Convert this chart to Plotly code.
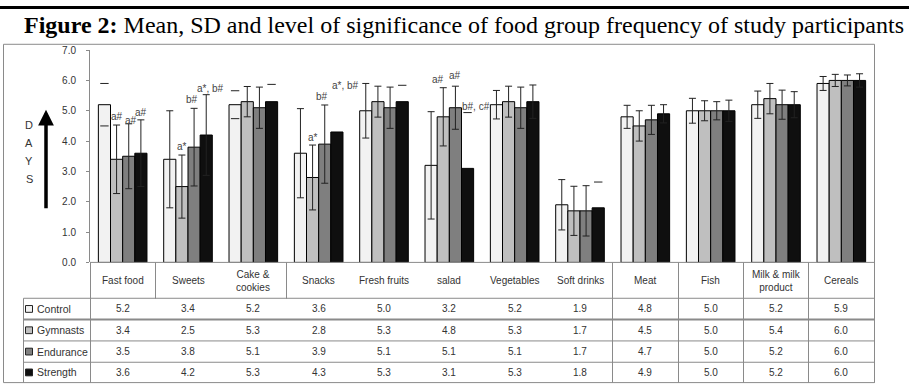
import plotly.graph_objects as go

# ---------------- data ----------------
categories = ["Fast food", "Sweets", "Cake &<br>cookies", "Snacks", "Fresh fruits", "salad",
              "Vegetables", "Soft drinks", "Meat", "Fish", "Milk & milk<br>product", "Cereals"]
series_names = ["Control", "Gymnasts", "Endurance", "Strength"]

control_mean = [5.2, 3.4, 5.2, 3.6, 5.0, 3.2, 5.2, 1.9, 4.8, 5.0, 5.2, 5.9]
gymnasts_mean = [3.4, 2.5, 5.3, 2.8, 5.3, 4.8, 5.3, 1.7, 4.5, 5.0, 5.4, 6.0]
endurance_mean = [3.5, 3.8, 5.1, 3.9, 5.1, 5.1, 5.1, 1.7, 4.7, 5.0, 5.2, 6.0]
strength_mean = [3.6, 4.2, 5.3, 4.3, 5.3, 3.1, 5.3, 1.8, 4.9, 5.0, 5.2, 6.0]

control_sd = [0.70, 1.60, 0.46, 1.47, 0.90, 1.77, 0.47, 0.83, 0.38, 0.41, 0.45, 0.23]
gymnasts_sd = [1.13, 1.04, 0.50, 1.07, 0.51, 0.96, 0.51, 0.81, 0.50, 0.33, 0.50, 0.20]
endurance_sd = [1.07, 1.28, 0.68, 1.29, 0.68, 0.71, 0.68, 0.83, 0.48, 0.30, 0.48, 0.18]
strength_sd = [1.10, 1.33, 0.57, 1.30, 0.54, 1.84, 0.55, 0.85, 0.30, 0.35, 0.43, 0.22]

# how the error bar shows in the source: full whisker, caps only, top cap only, none
control_err = ["caps", "full", "caps", "full", "full", "full", "full", "full", "full", "full", "full", "full"]
gymnasts_err = ["full"] * 12
endurance_err = ["full"] * 12
strength_err = ["full", "full", "top", "none", "top", "top", "full", "top", "full", "full", "full", "full"]

# significance labels: (category index, series index, text)
sig_labels = [
    (0, 1, "a#"), (0, 2, "a#"), (0, 3, "a#"),
    (1, 1, "a*"), (1, 2, "b#"), (1, 3, "a*, b#"),
    (3, 1, "a*"), (3, 2, "b#"), (3, 3, "a*, b#"),
    (5, 1, "a#"), (5, 2, "a#"), (5, 3, "b#, c#"),
]
sig_xshift = [0, 2, 0, 0, -2, 4, 0, -3, 9, -5, 0, 8]
sig_yshift = [1, -4, 0, 1, 1, -1, 0, 1, 0, 1, 3, -1]

means = [control_mean, gymnasts_mean, endurance_mean, strength_mean]
sds = [control_sd, gymnasts_sd, endurance_sd, strength_sd]
errs = [control_err, gymnasts_err, endurance_err, strength_err]

# ---------------- style ----------------
colors = ["#f2f2f2", "#bfbfbf", "#7f7f7f", "#0f0f0f"]
W, H = 909, 392
GRID = "#8a8a8a"
TXT = "#333333"
FONT = "Liberation Sans"
bw = 0.186


def fx(px):
    return px / W


def fy(py):
    return 1 - py / H


fig = go.Figure()

n = len(categories)
for j, name in enumerate(series_names):
    xs = [i + (j - 1.5) * bw for i in range(n)]
    fig.add_trace(go.Bar(
        x=xs, y=means[j], width=bw, name=name,
        marker=dict(color=colors[j], line=dict(color="#000000", width=1)),
        showlegend=False, hoverinfo="skip"))

for j in range(4):
    xs = [i + (j - 1.5) * bw for i in range(n)]
    fx_full = [xs[i] for i in range(n) if errs[j][i] == "full"]
    fy_full = [means[j][i] for i in range(n) if errs[j][i] == "full"]
    fe_full = [sds[j][i] for i in range(n) if errs[j][i] == "full"]
    fig.add_trace(go.Scatter(
        x=fx_full, y=fy_full, mode="markers",
        marker=dict(size=1, color="rgba(0,0,0,0)"),
        error_y=dict(type="data", array=fe_full, visible=True, color="#222222",
                     thickness=1, width=3.5),
        showlegend=False, hoverinfo="skip"))
    cx, cy = [], []
    for i in range(n):
        if errs[j][i] in ("caps", "top"):
            cx.append(xs[i]); cy.append(means[j][i] + sds[j][i])
        if errs[j][i] == "caps":
            cx.append(xs[i]); cy.append(means[j][i] - sds[j][i])
    if cx:
        fig.add_trace(go.Scatter(
            x=cx, y=cy, mode="markers",
            marker=dict(symbol="line-ew", size=6, line=dict(color="#222222", width=1)),
            showlegend=False, hoverinfo="skip"))

annotations = []
# significance labels
for k, (ci, sj, txt) in enumerate(sig_labels):
    annotations.append(dict(
        x=ci + (sj - 1.5) * bw, y=means[sj][ci] + sds[sj][ci], xref="x", yref="y",
        text=txt, showarrow=False, yanchor="bottom", xanchor="center",
        xshift=sig_xshift[k], yshift=sig_yshift[k],
        font=dict(family=FONT, size=10, color="#444444")))

# title
annotations.append(dict(
    x=fx(906), y=fy(20), xref="paper", yref="paper", xanchor="right", yanchor="middle",
    text="<b>Figure 2:</b> Mean, SD and level of significance of food group frequency of study participants",
    showarrow=False, font=dict(family="Liberation Serif", size=24, color="#000000")))

# DAYS
for k, ch in enumerate("DAYS"):
    annotations.append(dict(
        x=fx(29), y=fy(123 + k * 18.5), xref="paper", yref="paper", text=ch,
        showarrow=False, xanchor="center", yanchor="middle",
        font=dict(family=FONT, size=11, color=TXT)))

# arrow
annotations.append(dict(
    x=fx(46), y=fy(107), xref="paper", yref="paper", ax=0, ay=100, axref="pixel", ayref="pixel",
    showarrow=True, arrowhead=2, arrowsize=0.9, arrowwidth=3.5, arrowcolor="#000000", text=""))

# table header
row_y = [312.5, 334.5, 356.5, 378]
for i, c in enumerate(categories):
    annotations.append(dict(
        x=i, y=fy(283.5), xref="x", yref="paper", text=c, showarrow=False,
        xanchor="center", yanchor="middle",
        font=dict(family=FONT, size=10, color=TXT)))
    for j in range(4):
        annotations.append(dict(
            x=i, y=fy(row_y[j]), xref="x", yref="paper", text=f"{means[j][i]:.1f}",
            showarrow=False, xanchor="center", yanchor="middle",
            font=dict(family=FONT, size=10, color=TXT)))

for j, name in enumerate(series_names):
    annotations.append(dict(
        x=fx(35), y=fy(row_y[j]), xref="paper", yref="paper", text=name, showarrow=False,
        xanchor="left", yanchor="middle", font=dict(family=FONT, size=10.5, color=TXT)))

shapes = []
# top black rule
shapes.append(dict(type="rect", xref="paper", yref="paper", x0=0, x1=1, y0=fy(3), y1=fy(0),
                   fillcolor="#000000", line=dict(width=0), layer="above"))
# outer frame
shapes.append(dict(type="rect", xref="paper", yref="paper", x0=fx(3.5), x1=fx(874.5),
                   y0=fy(388.5), y1=fy(39.5), line=dict(color=GRID, width=1)))
# x axis line
shapes.append(dict(type="line", xref="paper", yref="paper", x0=fx(90), x1=fx(874.5),
                   y0=fy(264.5), y1=fy(264.5), line=dict(color=GRID, width=1)))
# header row verticals
for xv in [90.5, 155.5, 286.5, 612.5, 678.5, 743.5, 808.5, 874.5]:
    shapes.append(dict(type="line", xref="paper", yref="paper", x0=fx(xv), x1=fx(xv),
                       y0=fy(302), y1=fy(264.5), line=dict(color=GRID, width=1)))
# data row verticals
for xv in [23.5, 90.5, 612.5, 678.5, 743.5, 808.5, 874.5]:
    shapes.append(dict(type="line", xref="paper", yref="paper", x0=fx(xv), x1=fx(xv),
                       y0=fy(388.5), y1=fy(301.5), line=dict(color=GRID, width=1)))
# horizontal rows
for yv, wdt in [(301.5, 1), (323.5, 2), (345.5, 1), (367.5, 1)]:
    shapes.append(dict(type="line", xref="paper", yref="paper", x0=fx(23.5), x1=fx(874.5),
                       y0=fy(yv), y1=fy(yv), line=dict(color=GRID, width=wdt)))
# legend keys
for j in range(4):
    shapes.append(dict(type="rect", xref="paper", yref="paper", x0=fx(25.5), x1=fx(32.5),
                       y0=fy(row_y[j] + 3.5), y1=fy(row_y[j] - 3.5),
                       fillcolor=colors[j], line=dict(color="#222222", width=1)))

fig.update_layout(
    width=W, height=H, margin=dict(l=0, r=0, t=0, b=0),
    paper_bgcolor="white", plot_bgcolor="white",
    barmode="overlay", showlegend=False,
    xaxis=dict(domain=[fx(90), fx(874)], range=[-0.5, n - 0.5], showticklabels=False,
               showgrid=False, zeroline=False, showline=False, ticks=""),
    yaxis=dict(domain=[fy(264.5), fy(45.5)], range=[0, 7], dtick=1, tick0=0, tickformat=".1f",
               showgrid=False, zeroline=False, showline=True, linecolor=GRID, linewidth=1,
               ticks="outside", ticklen=3, tickcolor=GRID, ticklabelstandoff=8,
               tickfont=dict(family=FONT, size=10, color=TXT)),
    annotations=annotations, shapes=shapes,
)

fig.write_html("out.html")
